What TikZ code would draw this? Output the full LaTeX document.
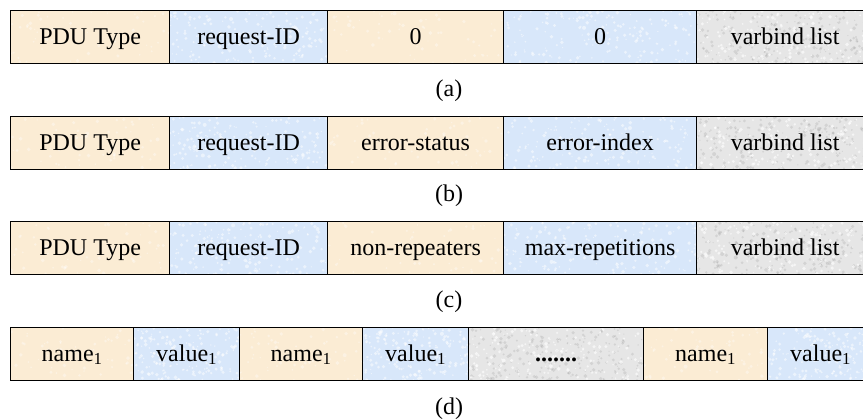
\documentclass[tikz,border=0pt]{standalone}
\usepackage{fontspec}
\usetikzlibrary{calc}
\setmainfont{Liberation Serif}
\definecolor{peach}{RGB}{251,236,212}
\definecolor{sky}{RGB}{216,231,250}
\definecolor{stone}{RGB}{230,230,230}
\pgfmathsetseed{7}
% scattered specks giving a fill a paper-like grain: colour, opacity, count
\newcommand{\grain}[3]{%
  \foreach \k in {1,...,#3} {
    \fill[#1, opacity=#2]
      let \p1=(path picture bounding box.south west),
          \p2=(path picture bounding box.north east) in
      ({\x1+rnd*(\x2-\x1)},{\y1+rnd*(\y2-\y1)}) circle ({0.6pt+rnd*1.4pt});
  }}
\tikzset{
  cell/.style={draw=black, line width=1.3pt, anchor=north west,
    minimum height=53pt, inner sep=0pt, text height=18pt, text depth=4pt,
    font=\fontsize{24}{28}\selectfont},
  pcell/.style={cell, fill=peach, path picture={\grain{white}{0.35}{60}}},
  bcell/.style={cell, fill=sky, path picture={\grain{white}{0.5}{180}}},
  gcell/.style={cell, fill=stone,
    path picture={\grain{black}{0.08}{220}\grain{white}{0.6}{160}}},
  caption/.style={font=\fontsize{24}{28}\selectfont}
}
\newcommand{\sub}[1]{\textsubscript{#1}}
\begin{document}
\begin{tikzpicture}[x=1pt, y=-1pt]
  \useasboundingbox (0,0) rectangle (863,419);
  \clip (0,0) rectangle (863,419);
  % (a) GetRequest / GetNextRequest / SetRequest
  \node[pcell, minimum width=159pt] (a1) at (10,10)  {PDU Type};
  \node[bcell, minimum width=158pt] (a2) at (169,10) {request-ID};
  \node[pcell, minimum width=176pt] (a3) at (327,10) {0};
  \node[bcell, minimum width=193pt] (a4) at (503,10) {0};
  \node[gcell, minimum width=177pt] (a5) at (696,10) {varbind list};
  \node[caption] (capa) at (449,91) {(a)};
  % (b) Response
  \node[pcell, minimum width=159pt] (b1) at (10,116)  {PDU Type};
  \node[bcell, minimum width=158pt] (b2) at (169,116) {request-ID};
  \node[pcell, minimum width=176pt] (b3) at (327,116) {error-status};
  \node[bcell, minimum width=193pt] (b4) at (503,116) {error-index};
  \node[gcell, minimum width=177pt] (b5) at (696,116) {varbind list};
  \node[caption] (capb) at (449,196) {(b)};
  % (c) GetBulkRequest
  \node[pcell, minimum width=159pt] (c1) at (10,221)  {PDU Type};
  \node[bcell, minimum width=158pt] (c2) at (169,221) {request-ID};
  \node[pcell, minimum width=176pt] (c3) at (327,221) {non-repeaters};
  \node[bcell, minimum width=193pt] (c4) at (503,221) {max-repetitions};
  \node[gcell, minimum width=177pt] (c5) at (696,221) {varbind list};
  \node[caption] (capc) at (449,302) {(c)};
  % (d) variable bindings
  \node[pcell, minimum width=123pt] (d1) at (10,327)  {name\sub{1}};
  \node[bcell, minimum width=106pt] (d2) at (133,327) {value\sub{1}};
  \node[pcell, minimum width=123pt] (d3) at (239,327) {name\sub{1}};
  \node[bcell, minimum width=106pt] (d4) at (362,327) {value\sub{1}};
  \node[gcell, minimum width=175pt] (d5) at (468,327) {\textbf{.......}};
  \node[pcell, minimum width=124pt] (d6) at (643,327) {name\sub{1}};
  \node[bcell, minimum width=106pt] (d7) at (767,327) {value\sub{1}};
  \node[caption] (capd) at (449,409) {(d)};
\end{tikzpicture}
\end{document}
